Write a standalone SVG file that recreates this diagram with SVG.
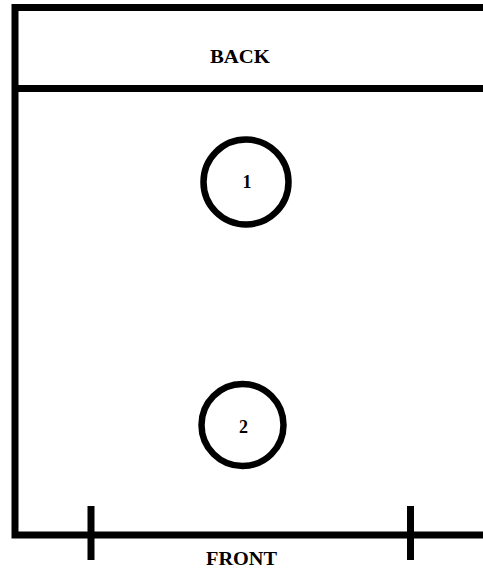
<svg xmlns="http://www.w3.org/2000/svg" width="483" height="569" viewBox="0 0 483 569">
  <style>
    .ln { fill: none; stroke: #000; stroke-width: 7; stroke-linejoin: miter; }
    .pole { fill: none; stroke: #000; stroke-width: 6.5; }
    .lbl { font-family: "Liberation Serif", "Times New Roman", serif; font-weight: bold; fill: #000; text-anchor: middle; }
  </style>
  <rect width="483" height="569" fill="#fff"/>
  <g id="frame">
    <path class="ln" d="M483,7.5 H15 V535 H483"/>
    <path class="ln" d="M15,88.5 H483"/>
    <path class="ln" d="M91,506 V560 M410.5,506 V560"/>
  </g>
  <g id="back-label">
    <text class="lbl" x="240" y="63" font-size="19" textLength="60" lengthAdjust="spacingAndGlyphs">BACK</text>
  </g>
  <g id="front-label">
    <text class="lbl" x="241.5" y="565" font-size="19" textLength="71" lengthAdjust="spacingAndGlyphs">FRONT</text>
  </g>
  <g id="node1">
    <circle class="pole" cx="246" cy="182" r="42.5"/>
    <text class="lbl" x="247" y="188" font-size="18">1</text>
  </g>
  <g id="node2">
    <circle class="pole" cx="242.5" cy="425" r="41"/>
    <text class="lbl" x="243.5" y="433" font-size="18">2</text>
  </g>
</svg>
